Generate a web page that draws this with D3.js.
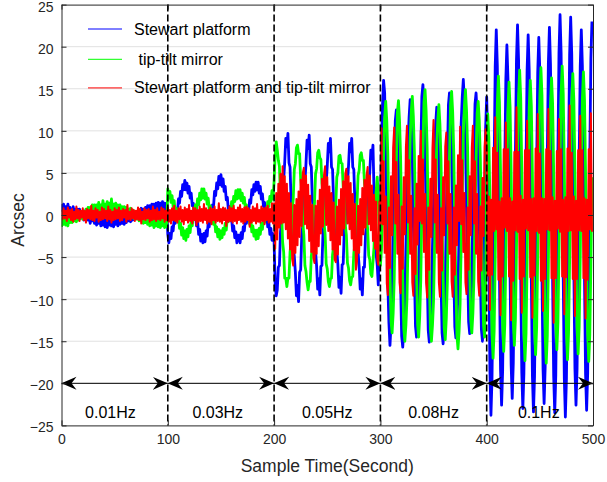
<!DOCTYPE html>
<html>
<head>
<meta charset="utf-8">
<script src="https://cdn.jsdelivr.net/npm/d3@7"></script>
<style>
  html, body { margin: 0; padding: 0; background: #fff; }
  svg { display: block; font-family: "Liberation Sans", Arial, Helvetica, sans-serif; }
</style>
</head>
<body>
<svg id="chart" width="607" height="482"></svg>
<script>
// Pointing error of the three configurations, one sample per second (0–499 s).
const sampleStep = 1;

const stewartPlatform = [
  // 0–99 s, 0.01 Hz
  1.3,0.5,1.3,0.3,1.0,0.3,1.3,0.5,0.9,0.1,
  0.2,1.0,0.0,0.7,-0.3,0.7,0.0,0.7,-0.4,0.4,
  0.4,-0.6,0.2,-0.6,0.3,-0.6,-0.1,-1.0,0.0,-0.7,
  0.0,-1.0,-0.3,-1.2,-0.3,-1.0,-0.2,-1.3,-0.6,-1.2,
  -0.4,-1.4,-0.6,-1.5,-0.5,-1.2,-0.4,-1.3,-0.3,-1.4,
  -0.5,-1.1,-0.3,-1.3,-0.5,-1.1,-0.2,-1.0,-0.2,-1.1,
  -0.2,-0.9,0.1,-0.7,0.1,-0.8,0.1,-0.6,0.4,-0.4,
  -0.4,0.4,-0.4,0.6,-0.1,0.8,-0.1,0.7,-0.1,0.9,
  0.1,1.1,0.3,1.1,0.2,1.3,0.5,1.3,0.4,1.4,
  0.5,1.5,0.6,1.4,0.4,1.6,0.6,1.4,0.5,1.4,
  // 100–199 s, 0.03 Hz
  -2.3,-3.3,-2.2,-2.8,-1.4,-1.9,-0.5,-1.0,0.6,0.2,
  1.9,1.4,2.8,2.2,3.6,3.0,4.1,3.0,3.8,2.6,
  3.4,2.0,2.6,1.1,1.4,-0.3,0.2,-1.3,-0.7,-2.3,
  -1.7,-3.1,-2.3,-3.3,-2.2,-3.2,-1.9,-2.5,-0.9,-1.4,
  0.1,-0.5,1.2,1.0,2.8,2.3,3.8,3.1,4.6,3.6,
  4.8,3.4,4.3,2.8,3.4,1.8,2.1,0.6,1.0,-0.7,
  -0.4,-1.9,-1.3,-2.7,-2.0,-3.3,-2.4,-2.4,-3.3,-2.1,
  -2.8,-1.4,-1.9,-0.5,-1.0,0.7,0.3,1.8,1.4,3.0,
  2.4,3.6,2.8,3.9,3.0,3.9,2.6,3.4,1.9,2.5,
  1.0,1.5,-0.1,0.3,-1.4,-0.8,-2.3,-1.6,-3.0,-2.2,
  // 200–299 s, 0.05 Hz
  -3.2,-8.2,-9.6,-8.9,-6.2,-6.0,-2.0,-0.8,3.3,4.2,
  6.3,9.1,8.1,9.7,6.2,5.7,1.6,0.3,-3.9,-4.9,
  -6.8,-9.6,-8.4,-10.3,-6.8,-6.5,-2.5,-1.2,3.0,3.9,
  6.1,8.9,7.9,9.5,6.1,5.7,1.7,0.6,-3.4,-4.3,
  -6.1,-8.8,-7.6,-9.5,-6.1,-6.0,-2.1,-1.0,3.0,3.8,
  5.8,8.5,7.5,9.1,5.7,5.4,1.5,0.5,-3.4,-4.2,
  -5.9,-8.6,-7.4,-9.3,-5.9,-5.8,-1.9,-0.9,3.0,3.8,
  5.8,8.5,7.5,9.1,5.7,5.4,1.5,0.4,-3.6,-4.4,
  -6.1,-8.8,-7.6,-9.5,-6.2,-6.2,-2.3,-1.4,2.4,3.2,
  5.1,7.7,6.7,8.3,2.8,0.6,-4.7,-5.9,-8.3,-4.6,
  // 300–399 s, 0.08 Hz
  0.6,8.4,13.1,16.0,14.5,7.5,0.9,-8.2,-12.8,-15.5,
  -13.0,-9.1,-0.9,4.9,11.2,12.5,10.0,6.1,-2.2,-8.1,
  -14.4,-15.7,-13.6,-10.8,-3.7,1.7,8.8,11.6,13.7,11.2,
  7.3,-1.0,-6.9,-13.2,-14.5,-11.9,-7.6,1.1,7.4,14.1,
  15.5,12.9,8.5,-0.4,-6.9,-13.7,-15.1,-13.1,-10.4,-3.7,
  1.4,8.1,10.8,12.8,10.3,6.4,-1.9,-7.7,-14.0,-15.3,
  -12.7,-8.5,0.2,6.5,13.1,14.5,12.0,7.8,-0.6,-6.7,
  -13.3,-14.6,-12.5,-9.4,-2.1,3.6,10.9,14.0,16.1,13.5,
  9.2,0.4,-6.0,-12.7,-14.1,-11.6,-7.6,0.8,6.8,13.2,
  14.5,11.9,7.7,-0.9,-7.0,-13.6,-15.0,-10.2,-1.1,10.4,
  // 400–499 s, 0.1 Hz
  14.0,8.5,-4.9,-18.3,-23.8,-19.4,-8.0,6.2,17.6,22.0,
  17.7,6.6,-7.2,-18.3,-22.6,-18.5,-7.8,5.4,16.1,20.2,
  16.2,5.7,-7.3,-17.8,-21.8,-17.6,-6.5,7.3,18.4,22.6,
  18.3,6.9,-7.3,-18.7,-23.0,-18.8,-7.7,6.1,17.2,21.4,
  17.1,5.9,-7.9,-19.1,-23.4,-19.2,-8.0,5.7,16.9,21.1,
  17.0,6.1,-7.4,-18.3,-22.4,-18.1,-7.0,6.9,18.0,22.3,
  17.9,6.5,-7.7,-19.1,-23.5,-19.0,-7.2,7.5,19.3,23.8,
  19.2,7.3,-7.5,-19.4,-24.0,-19.5,-7.6,7.1,19.0,23.5,
  19.1,7.6,-6.7,-18.2,-22.6,-18.3,-7.2,6.6,17.7,22.0,
  17.7,6.4,-7.6,-18.9,-23.2,-18.8,-7.2,7.0,18.6,23.0
];

const tipTiltMirror = [
  // 0–99 s
  -1.4,-0.4,-1.1,-0.3,-1.2,-0.4,-1.3,-0.3,-0.9,-0.1,
  -0.9,0.0,-0.7,0.0,-0.8,0.0,-0.6,0.3,-0.4,0.3,
  -0.5,0.5,-0.2,0.7,-0.2,0.9,0.0,0.9,0.0,1.2,
  0.1,1.2,0.3,1.2,0.3,1.5,0.3,1.2,0.5,1.7,
  0.4,1.3,0.5,1.6,0.6,1.4,0.5,1.9,0.4,1.3,
  0.5,1.4,0.5,1.2,0.3,1.2,0.3,1.0,0.1,1.0,
  0.1,0.9,-0.1,0.7,-0.1,0.8,-0.1,0.6,-0.4,0.4,
  0.4,-0.5,0.2,-0.7,0.2,-0.6,0.2,-1.0,-0.1,-0.9,
  -0.1,-1.1,-0.3,-1.3,-0.3,-1.2,-0.5,-1.5,-0.4,-1.3,
  -0.5,-1.4,-0.6,-1.5,-0.4,-1.3,-0.5,-1.5,-0.6,-1.4,
  // 100–199 s
  3.1,2.0,2.8,1.5,2.3,1.0,1.7,0.3,0.8,-0.8,
  -0.1,-1.6,-1.0,-2.4,-1.5,-2.8,-1.9,-3.0,-1.7,-2.6,
  -1.3,-2.1,-0.7,-1.3,0.1,-0.4,1.2,0.6,1.9,1.2,
  2.6,1.8,3.1,2.0,3.1,1.9,2.6,1.3,2.0,0.6,
  1.1,-0.4,0.3,-1.1,-0.6,-2.0,-1.4,-2.6,-1.7,-2.9,
  -1.9,-2.7,-1.6,-2.3,-1.0,-1.8,-0.3,-0.8,0.6,0.1,
  1.6,1.0,2.2,1.6,2.9,1.9,3.0,2.0,3.0,1.7,
  2.6,1.4,2.1,0.7,1.2,-0.3,0.2,-1.1,-0.6,-2.0,
  -1.3,-2.5,-1.8,-2.9,-1.8,-2.8,-1.6,-2.3,-1.0,-1.7,
  -0.3,-0.9,0.6,0.1,1.6,1.0,2.2,1.6,2.9,1.9,
  // 200–299 s
  4.0,7.2,8.7,7.7,6.5,5.8,2.2,0.7,-3.2,-4.4,
  -7.5,-7.5,-8.5,-7.5,-7.5,-4.4,-3.3,0.5,1.9,5.4,
  6.1,8.0,8.3,7.3,7.3,4.2,3.0,-0.9,-2.4,-6.0,
  -6.7,-8.0,-8.9,-7.9,-7.9,-4.9,-3.8,0.0,1.4,4.9,
  5.5,7.4,7.7,6.8,6.6,3.8,2.7,-1.0,-2.3,-5.8,
  -6.4,-7.9,-8.5,-7.6,-7.5,-4.7,-3.7,-0.1,1.1,4.5,
  5.0,7.0,7.1,6.2,6.1,3.3,2.4,-1.2,-2.4,-5.7,
  -6.3,-7.8,-8.3,-7.4,-7.3,-4.5,-3.5,0.1,1.4,4.7,
  5.3,7.1,7.4,6.5,6.5,3.8,2.9,-0.5,-1.6,-4.8,
  -5.3,-7.0,-7.3,-5.6,-3.8,1.0,2.8,4.5,2.4,-3.9,
  // 300–399 s
  -6.0,-4.1,0.7,6.8,11.6,13.5,11.2,7.1,-0.7,-6.6,
  -12.6,-14.0,-11.7,-7.6,0.3,6.2,12.2,13.6,11.2,6.9,
  -1.2,-7.4,-13.5,-15.0,-13.1,-10.0,-3.2,2.3,9.1,12.2,
  14.1,11.7,7.4,-0.7,-6.9,-13.0,-14.5,-12.0,-7.6,0.7,
  7.1,13.4,14.9,12.4,7.9,-0.5,-7.1,-13.5,-15.0,-13.1,
  -10.2,-3.6,1.7,8.3,11.3,13.1,10.8,6.6,-1.3,-7.4,
  -13.4,-14.8,-12.3,-7.9,0.4,6.9,13.2,14.7,12.2,7.5,
  -1.1,-7.8,-14.3,-15.9,-13.9,-10.5,-3.4,2.5,9.6,12.9,
  14.9,12.5,8.1,0.0,-6.4,-12.5,-14.0,-11.7,-7.5,0.2,
  6.2,12.1,13.5,11.2,6.9,-1.0,-7.1,-13.1,-14.5,-7.9,
  // 400–499 s
  5.4,12.0,9.2,2.0,-7.0,-14.2,-17.0,-13.8,-5.4,4.9,
  13.3,16.5,13.4,5.2,-4.9,-13.1,-16.2,-13.1,-5.1,4.7,
  12.7,15.8,12.8,5.0,-4.7,-12.5,-15.5,-12.4,-4.2,5.9,
  14.1,17.2,13.9,5.3,-5.4,-14.0,-17.3,-14.1,-5.8,4.5,
  12.8,16.0,12.9,4.7,-5.3,-13.5,-16.6,-13.3,-4.8,5.7,
  14.2,17.5,14.2,5.4,-5.5,-14.3,-17.6,-14.4,-5.9,4.6,
  13.1,16.3,13.2,5.1,-4.8,-12.9,-16.0,-12.8,-4.4,6.1,
  14.5,17.7,14.4,5.6,-5.1,-13.9,-17.2,-14.0,-5.5,5.1,
  13.6,16.8,13.6,5.3,-5.0,-13.3,-16.5,-13.3,-4.9,5.4,
  13.8,17.0,13.7,5.1,-5.5,-14.1,-17.4,-14.2,-5.9,4.5
];

const combinedSystem = [
  // 0–99 s
  0.6,-0.5,0.8,-0.4,0.5,-0.7,0.9,-0.3,0.6,-0.6,
  0.7,-0.8,0.4,-0.5,1.0,-0.4,0.6,-0.7,0.5,-0.3,
  0.8,-0.6,0.5,-0.9,0.7,-0.4,0.6,-0.5,1.1,-0.6,
  0.5,-0.7,0.8,-0.3,0.6,-0.8,0.4,-0.6,0.9,-0.5,
  0.7,-0.4,0.5,-0.7,1.0,-0.5,0.6,-0.9,0.4,-0.6,
  0.8,-0.5,0.6,-0.4,0.9,-0.7,0.5,-0.6,0.7,-0.3,
  0.6,-0.8,1.2,-0.5,0.4,-0.6,0.8,-0.4,0.6,-0.7,
  0.5,-0.5,0.9,-0.6,0.7,-1.0,0.4,-0.5,0.8,-0.6,
  0.6,-0.4,0.7,-0.8,0.5,-0.6,1.0,-0.5,0.6,-0.7,
  0.8,-0.5,0.4,-0.6,0.9,-0.4,0.7,-0.8,0.5,-0.6,
  // 100–199 s
  0.9,-0.8,0.6,-1.0,0.8,-0.6,1.1,-0.7,0.5,-0.9,
  0.8,-0.5,1.0,-0.8,0.6,-1.1,0.9,-0.6,0.7,-0.9,
  1.2,-0.7,0.5,-1.0,0.9,-0.6,0.8,-1.2,0.6,-0.8,
  1.0,-0.7,0.7,-0.9,1.3,-0.6,0.8,-1.0,0.6,-0.8,
  0.9,-1.1,0.7,-0.6,1.0,-0.9,0.6,-0.7,1.4,-0.8,
  0.7,-1.0,0.9,-0.6,0.8,-1.3,0.6,-0.8,1.0,-0.7,
  0.8,-0.9,1.1,-0.7,0.6,-1.0,0.9,-0.6,1.2,-0.8,
  0.7,-1.0,0.9,-0.8,1.0,-0.6,0.8,-1.4,0.6,-0.9,
  1.0,-0.7,0.8,-1.0,1.3,-0.8,0.6,-0.9,1.0,-0.7,
  0.8,-1.1,0.9,-0.6,1.1,-0.9,0.7,-0.8,1.4,-1.0,
  // 200–299 s
  1.4,-4.0,2.6,-2.9,3.7,-1.5,4.9,-1.0,5.8,-0.9,
  4.6,-1.7,3.7,-2.8,2.6,-4.1,1.4,-5.2,-6.0,1.2,
  -4.5,1.9,-3.6,2.8,-2.6,4.2,-1.3,5.0,5.6,-1.1,
  4.7,-1.6,3.6,-3.1,2.3,-4.4,1.2,-5.1,-5.7,1.1,
  -4.6,1.7,-3.7,3.0,-2.2,4.3,-1.4,4.8,5.8,-1.2,
  4.5,-1.9,3.4,-3.0,2.6,-4.1,1.5,-5.3,-5.6,1.0,
  -4.7,1.8,-3.5,3.1,-2.4,4.0,-1.6,4.9,5.5,-1.0,
  4.6,-1.7,3.8,-2.8,2.5,-4.2,1.3,-6.5,-5.5,1.1,
  -4.5,1.9,-3.6,3.2,-2.3,4.2,-1.5,4.7,5.7,-1.1,
  4.7,-1.8,3.5,-3.1,2.4,-4.0,1.6,-5.2,-5.9,1.6,
  // 300–399 s
  -1.0,10.3,-1.1,6.4,-4.5,2.2,-8.1,-9.5,0.9,-6.3,
  4.6,-2.4,8.0,10.4,-1.0,6.3,-4.6,2.4,-8.0,-9.3,
  1.0,-6.4,4.5,-2.3,8.1,10.6,-0.9,6.5,-4.6,2.3,
  -8.0,-9.6,0.8,-7.0,3.7,-3.5,7.0,-0.7,10.0,-1.0,
  6.6,-4.4,2.5,-8.1,-9.8,0.9,-6.5,4.3,-2.6,8.0,
  11.3,-0.9,6.6,-4.5,2.4,-8.0,-9.7,0.8,-6.6,4.5,
  -2.4,8.1,9.8,-1.0,6.4,-4.6,2.5,-7.9,-9.7,0.9,
  -7.1,3.5,-3.6,7.1,-0.7,10.5,-1.1,6.5,-4.4,2.6,
  -8.0,-9.4,0.9,-6.5,4.6,-2.4,8.0,10.6,-1.0,6.4,
  -4.6,2.5,-7.9,-9.6,1.0,-6.6,4.4,-2.5,8.1,10.2,
  // 400–499 s
  7.6,-7.2,2.2,-11.3,1.8,-7.1,8.0,-1.9,11.6,-1.7,
  7.4,-7.7,1.6,-11.9,2.0,-7.3,7.8,-1.5,11.0,-1.9,
  7.8,-7.3,2.0,-12.5,1.6,-7.8,7.5,-1.8,12.8,-2.0,
  7.5,-7.6,2.3,-11.6,1.8,-7.3,7.7,-1.6,11.2,-1.8,
  7.7,-7.4,1.9,-12.2,2.0,-7.2,7.9,-1.9,12.0,-2.1,
  7.3,-7.8,2.0,-11.4,1.9,-7.6,7.8,-1.7,12.6,-1.8,
  7.6,-7.5,2.1,-12.8,1.7,-7.5,7.6,-1.6,11.4,-2.0,
  7.8,-7.3,1.8,-11.8,2.1,-7.4,7.9,-1.9,13.0,-1.8,
  7.4,-7.6,2.2,-12.0,1.7,-7.6,7.7,-1.8,11.8,-1.9,
  7.7,-7.5,2.0,-12.3,1.8,-7.7,7.8,-1.7,12.1,-2.0
];

const seriesNames = ["Stewart platform", " tip-tilt mirror", "Stewart platform and tip-tilt mirror"];
const seriesColors = ["#0000ff", "#00ff00", "#ff0000"];
const seriesWidths = [2.8, 2.8, 2.0];

const xTicks = [0, 100, 200, 300, 400, 500];
const yTicks = [-25, -20, -15, -10, -5, 0, 5, 10, 15, 20, 25];

// Excitation bands
const bandEdges = [0, 100, 200, 300, 400, 500];
const bandLabels = ["0.01Hz", "0.03Hz", "0.05Hz", "0.08Hz", "0.1Hz"];
const bandLabelTimes = [46, 147, 250, 350, 449];
const arrowLevel = -20;
const bandLabelLevel = -24.1;

// ---------------------------------------------------------------
const svg = d3.select("#chart");
const plot = { left: 61.5, right: 593, top: 4.6, bottom: 425.4 };

const x = d3.scaleLinear().domain([0, 500]).range([plot.left, plot.right]);
const y = d3.scaleLinear().domain([-25, 25]).range([plot.bottom, plot.top]);

const axisColor = "#262626";

// horizontal grid
svg.append("g")
  .selectAll("line")
  .data(yTicks.filter(v => v > -25 && v < 25))
  .join("line")
  .attr("x1", plot.left).attr("x2", plot.right)
  .attr("y1", d => y(d)).attr("y2", d => y(d))
  .attr("stroke", "#e1e1e1").attr("stroke-width", 1);

// clip for the traces
svg.append("defs").append("clipPath").attr("id", "plot-clip")
  .append("rect")
  .attr("x", plot.left).attr("y", plot.top)
  .attr("width", plot.right - plot.left).attr("height", plot.bottom - plot.top);

const line = d3.line()
  .x((d, i) => x(i * sampleStep))
  .y(d => y(d));

const traces = svg.append("g").attr("clip-path", "url(#plot-clip)");
[stewartPlatform, tipTiltMirror, combinedSystem].forEach((series, k) => {
  traces.append("path")
    .datum(series)
    .attr("d", line)
    .attr("fill", "none")
    .attr("stroke", seriesColors[k])
    .attr("stroke-width", seriesWidths[k])
    .attr("stroke-linejoin", "round");
});

// band boundaries
svg.append("g")
  .selectAll("line")
  .data(bandEdges.slice(1, -1))
  .join("line")
  .attr("x1", d => x(d)).attr("x2", d => x(d))
  .attr("y1", plot.top).attr("y2", plot.bottom)
  .attr("stroke", "#000").attr("stroke-width", 1.6)
  .attr("stroke-dasharray", "7,3");

// double arrows spanning each band
const defs = svg.select("defs");
defs.append("marker")
  .attr("id", "arrow-head")
  .attr("markerUnits", "userSpaceOnUse")
  .attr("viewBox", "0 -7 15 14")
  .attr("refX", 15).attr("refY", 0)
  .attr("markerWidth", 15).attr("markerHeight", 14)
  .attr("orient", "auto-start-reverse")
  .append("path")
  .attr("d", "M0,-6.5 L15,0 L0,6.5 L5,0 Z")
  .attr("fill", "#000");

svg.append("g")
  .selectAll("line")
  .data(d3.range(bandLabels.length))
  .join("line")
  .attr("x1", i => x(bandEdges[i])).attr("x2", i => x(bandEdges[i + 1]))
  .attr("y1", y(arrowLevel)).attr("y2", y(arrowLevel))
  .attr("stroke", "#000").attr("stroke-width", 1)
  .attr("marker-start", "url(#arrow-head)")
  .attr("marker-end", "url(#arrow-head)");

svg.append("g")
  .selectAll("text")
  .data(bandLabels)
  .join("text")
  .attr("x", (d, i) => x(bandLabelTimes[i]))
  .attr("y", y(bandLabelLevel))
  .attr("text-anchor", "middle")
  .attr("font-size", 16)
  .attr("fill", "#000")
  .text(d => d);

// axes (box with inward ticks)
const tickLen = 5;
function styleAxis(g) {
  g.selectAll("path.domain").attr("stroke", axisColor);
  g.selectAll(".tick line").attr("stroke", axisColor);
  g.selectAll(".tick text").attr("fill", axisColor).attr("font-size", 14)
    .attr("font-family", "Liberation Sans, Arial, sans-serif");
}

svg.append("g")
  .attr("transform", `translate(0,${plot.bottom})`)
  .call(d3.axisBottom(x).tickValues(xTicks).tickFormat(d3.format("d"))
    .tickSizeInner(-tickLen).tickSizeOuter(0).tickPadding(9))
  .call(styleAxis);

svg.append("g")
  .attr("transform", `translate(0,${plot.top})`)
  .call(d3.axisTop(x).tickValues(xTicks).tickFormat("")
    .tickSizeInner(-tickLen).tickSizeOuter(0))
  .call(styleAxis);

svg.append("g")
  .attr("transform", `translate(${plot.left},0)`)
  .call(d3.axisLeft(y).tickValues(yTicks).tickFormat(d3.format("d"))
    .tickSizeInner(-tickLen).tickSizeOuter(0).tickPadding(8))
  .call(styleAxis)
  .call(g => g.selectAll(".tick text").attr("dy", "0.46em"));

svg.append("g")
  .attr("transform", `translate(${plot.right},0)`)
  .call(d3.axisRight(y).tickValues(yTicks).tickFormat("")
    .tickSizeInner(-tickLen).tickSizeOuter(0))
  .call(styleAxis);

// axis titles
svg.append("text")
  .attr("x", (plot.left + plot.right) / 2)
  .attr("y", 472)
  .attr("text-anchor", "middle")
  .attr("font-size", 17.5)
  .attr("fill", axisColor)
  .text("Sample Time(Second)");

svg.append("text")
  .attr("transform", `translate(24,220) rotate(-90)`)
  .attr("text-anchor", "middle")
  .attr("font-size", 17.5)
  .attr("fill", axisColor)
  .text("Arcsec");

// legend
const legendRows = [22.1, 18.5, 15.1];
const legend = svg.append("g");
seriesNames.forEach((name, k) => {
  const ly = y(legendRows[k]);
  legend.append("line")
    .attr("x1", 88).attr("x2", 122)
    .attr("y1", ly).attr("y2", ly)
    .attr("stroke", seriesColors[k]).attr("stroke-width", 1);
  legend.append("text")
    .attr("x", 134).attr("y", ly + 5.5)
    .attr("font-size", 16)
    .attr("fill", "#000")
    .attr("xml:space", "preserve")
    .style("white-space", "pre")
    .text(name);
});
</script>
</body>
</html>
